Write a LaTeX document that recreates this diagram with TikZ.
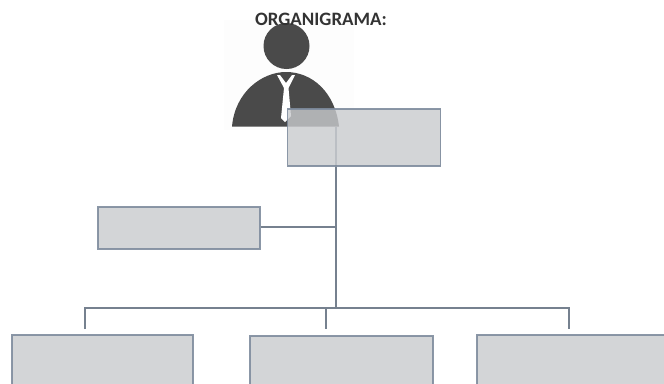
\documentclass[tikz,border=0pt]{standalone}
\usepackage{fontspec}
\setmainfont{Carlito}
\definecolor{boxfill}{HTML}{C9CBCE}
\definecolor{boxline}{HTML}{7F8C9E}
\definecolor{wire}{HTML}{76818F}
\definecolor{person}{HTML}{4A4A4A}
\tikzset{
  orgbox/.style={draw=boxline,line width=0.9pt,fill=boxfill,fill opacity=0.8,draw opacity=0.9,rectangle,inner sep=0pt,minimum width=#1},
  orgbox/.default=100pt,
  wireline/.style={draw=wire,line width=0.85pt,line cap=butt}
}
\begin{document}
\begin{tikzpicture}[x=0.75pt,y=-0.75pt]
\useasboundingbox (0,0) rectangle (664,383);
\clip (0,0) rectangle (664,383);
\fill[white] (0,0) rectangle (664,383);
\fill[black!0.8] (224,20) rectangle (354,130);
% person
\fill[person] (286.5,46) circle[radius=23*0.75pt];
\fill[person] (232,126.5) .. controls (235,92) and (262,72) .. (286,72) .. controls (312,72) and (335,92) .. (339,126.5) -- cycle;
\fill[white] (277,75) -- (280,75) -- (286,83) -- (292,75) -- (295,75) -- (288.5,88) -- (291,116) -- (285,122) -- (281,118) -- (284,88) -- cycle;
% title
\node[font=\bfseries\fontsize{14.2pt}{15pt}\selectfont,text=black!80] (title) at (321,19) {ORGANIGRAMA:};
% nodes
\node[orgbox=114.75pt,minimum height=42.75pt] (top) at (364,137.5) {};
\node[orgbox=121.5pt,minimum height=31.5pt] (left) at (179,228) {};
\node[orgbox=135.75pt,minimum height=45pt] (b1) at (102.5,365) {};
\node[orgbox=137.25pt,minimum height=45pt] (b2) at (341.5,366) {};
\node[orgbox=150pt,minimum height=45pt] (b3) at (577,365) {};
% connectors
\coordinate (junc) at (336,227);
\coordinate (bus) at (336,308);
\coordinate (busL) at (85,308);
\coordinate (busM) at (326,308);
\coordinate (busR) at (569,308);
\coordinate (dropL) at (85,329);
\coordinate (dropM) at (326,329);
\coordinate (dropR) at (569,329);
\coordinate (bodyEnd) at (336,127);
\draw[wireline,opacity=0.25,line width=1.2pt] (bodyEnd) -- (top.south -| bus);
\draw[wireline,line width=1.3pt] (top.south -| bus) -- (bus);
\draw[wireline] (left.east |- junc) -- (junc);
\draw[wireline] (dropL) -- (busL) -- (busR) -- (dropR);
\draw[wireline] (busM) -- (dropM);
\end{tikzpicture}
\end{document}
